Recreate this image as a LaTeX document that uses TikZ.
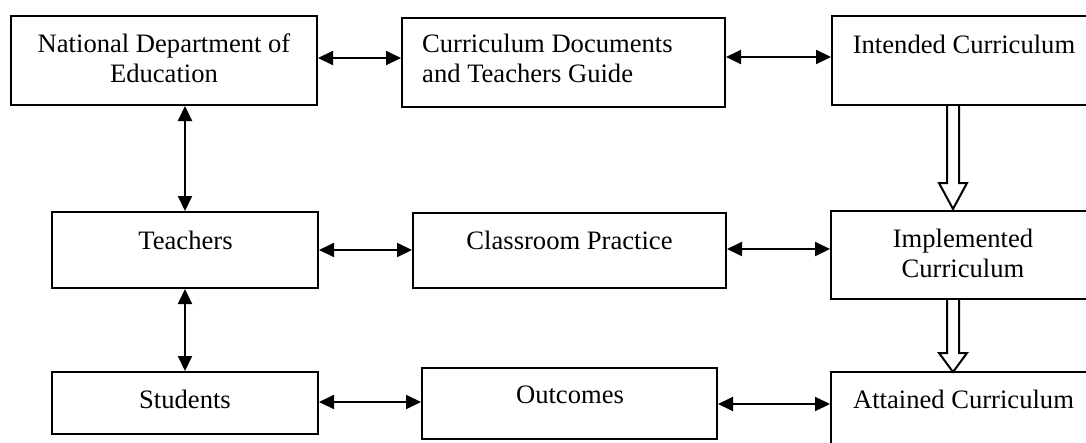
\documentclass[tikz,border=0pt]{standalone}
\usepackage{fontspec}
\setmainfont{Liberation Serif}
\usetikzlibrary{arrows.meta,calc}
\begin{document}
\begin{tikzpicture}[x=1pt,y=-1pt,
  box/.style={draw,line width=2pt,inner sep=0pt,fill=white},
  txt/.style={inner sep=0pt,font=\fontsize{26.6}{29.5}\selectfont},
  biarrow/.style={line width=2pt,{Triangle[length=15pt,width=14pt]}-{Triangle[length=15pt,width=14pt]}},
  hollow/.style={draw,line width=2pt,fill=white,line join=miter}]
\clip (0,0) rectangle (1086,442);
\fill[white] (0,0) rectangle (1086,442);

% boxes
\node[box,minimum width=306pt,minimum height=89pt] (nde) at (164,60.5) {};
\node[box,minimum width=323pt,minimum height=89pt] (cdt) at (563.5,62.5) {};
\node[box,minimum width=260pt,minimum height=89pt] (int) at (962,60.5) {};
\node[box,minimum width=266pt,minimum height=76pt] (tea) at (185,250) {};
\node[box,minimum width=313pt,minimum height=75pt] (cla) at (569.5,250.5) {};
\node[box,minimum width=261pt,minimum height=88pt] (imp) at (961.5,255) {};
\node[box,minimum width=266pt,minimum height=62pt] (stu) at (185,403) {};
\node[box,minimum width=295pt,minimum height=71pt] (out) at (569.5,403.5) {};
\node[box,minimum width=261pt,minimum height=80pt] (att) at (961.5,412) {};

% box texts (base anchor of two-line texts is the last line)
\node[txt,align=center,anchor=base] (ndeT) at (164,82) {National Department of\\Education};
\node[txt,align=left,anchor=base west] (cdtT) at (422,82) {Curriculum Documents\\and Teachers Guide};
\node[txt,anchor=base] (intT) at (964,53) {Intended Curriculum};
\node[txt,align=center,anchor=base] (impT) at (963,277) {Implemented\\Curriculum};
\node[txt,anchor=base] (teaT) at (185.5,249) {Teachers};
\node[txt,anchor=base] (claT) at (569.5,249) {Classroom Practice};
\node[txt,anchor=base] (stuT) at (185,408) {Students};
\node[txt,anchor=base] (outT) at (570,403) {Outcomes};
\node[txt,anchor=base] (attT) at (963.5,408) {Attained Curriculum};

% two-way links
\draw[biarrow] ([yshift=2.5pt]nde.east) -- ([yshift=2.5pt]nde.east -| cdt.west);
\draw[biarrow] ([yshift=5.5pt]cdt.east) -- ([yshift=5.5pt]cdt.east -| int.west);
\draw[biarrow] (tea.east) -- (tea.east -| cla.west);
\draw[biarrow] ([yshift=1.5pt]cla.east) -- ([yshift=1.5pt]cla.east -| imp.west);
\draw[biarrow] ([yshift=1pt]stu.east) -- ([yshift=1pt]stu.east -| out.west);
\draw[biarrow] ([yshift=-0.5pt]out.east) -- ([yshift=-0.5pt]out.east -| att.west);
\draw[biarrow] (nde.south -| tea.north) -- (tea.north);
\draw[biarrow] (tea.south) -- (stu.north);

% hollow block arrows down the curriculum column
\coordinate (ax) at (953,0);
\draw[hollow] ($(int.south -| ax)+(-6,0)$) -- ++(0,77) -- ++(-8,0) -- ++(14,26)
  -- ++(14,-26) -- ++(-8,0) -- ++(0,-77);
\draw[hollow] ($(imp.south -| ax)+(-6,0)$) -- ++(0,53) -- ++(-8,0) -- ++(14,19)
  -- ++(14,-19) -- ++(-8,0) -- ++(0,-53);
\end{tikzpicture}
\end{document}
